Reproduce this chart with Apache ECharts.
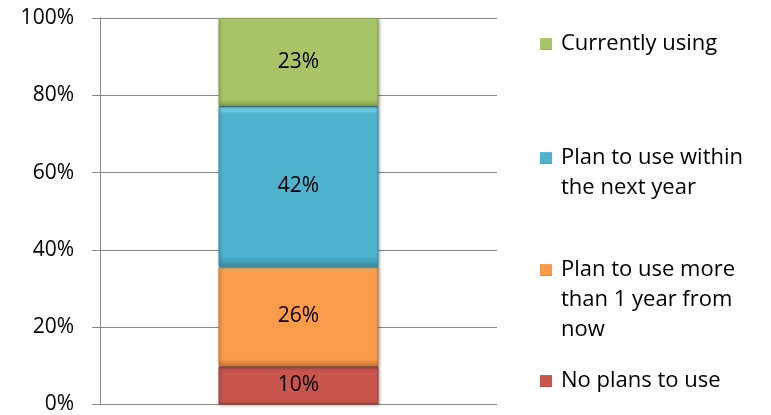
<!DOCTYPE html>
<html>
<head>
<meta charset="utf-8">
<script src="https://cdn.jsdelivr.net/npm/echarts@6/dist/echarts.min.js"></script>
<style>
  html, body { margin: 0; padding: 0; background: #fff; }
  #chart { width: 771px; height: 415px; }
</style>
</head>
<body>
<div id="chart"></div>
<script>
// Adoption status, stacked bottom to top
const categories = [''];
const seriesNames = ['No plans to use', 'Plan to use more\nthan 1 year from\nnow', 'Plan to use within\nthe next year', 'Currently using'];
const seriesValues = [[10], [26], [42], [23]];
const tickLabels = ['0%', '20%', '40%', '60%', '80%', '100%'];

const baseColors = ['#C9554F', '#F99B4B', '#4FB3CF', '#A7C466'];
const lightColors = ['#F08A84', '#FFD27E', '#8FE6FA', '#CFE68E'];
const darkColors = ['#9E3F3A', '#C9772F', '#3A8DA5', '#84A04A'];

const total = seriesValues.reduce((s, v) => s + v[0], 0);
const FONT = '"Open Sans", Lato, sans-serif';
const FONT_SIZE = 21;
const LEGEND_FONT_SIZE = 22;

function bevel(i) {
  return new echarts.graphic.LinearGradient(0, 0, 0, 1, [
    { offset: 0, color: lightColors[i] },
    { offset: 0.05, color: baseColors[i] },
    { offset: 0.93, color: baseColors[i] },
    { offset: 1, color: darkColors[i] }
  ]);
}

const series = seriesNames.map((name, i) => ({
  name: name,
  type: 'bar',
  stack: 'all',
  barWidth: 160,
  data: seriesValues[i],
  itemStyle: {
    color: bevel(i),
    borderColor: darkColors[i],
    borderWidth: 1,
    shadowColor: 'rgba(0,0,0,0.35)',
    shadowBlur: 3,
    shadowOffsetX: 1,
    shadowOffsetY: 1
  },
  label: {
    show: true,
    position: 'inside',
    formatter: p => p.value + '%',
    color: '#000',
    fontFamily: FONT,
    fontSize: FONT_SIZE
  }
}));

// Legend entries, top to bottom; the swatch sits beside the first line
const LINE = 30;
const legendCenters = [44, 158, 270, 381];
const legendOrder = [3, 2, 1, 0];
const legends = legendOrder.map((si, k) => {
  const lines = seriesNames[si].split('\n').length;
  return {
    data: [seriesNames[si]],
    left: 540,
    top: legendCenters[k] - (2 * lines - 1) * LINE / 2,
    padding: 0,
    itemWidth: 12,
    itemHeight: 12,
    icon: 'rect',
    selectedMode: false,
    formatter: name => '\n'.repeat(lines - 1) + name,
    itemStyle: { color: bevel(si), borderWidth: 0 },
    textStyle: {
      fontFamily: FONT,
      fontSize: LEGEND_FONT_SIZE,
      color: '#000',
      lineHeight: LINE,
      padding: [0, 0, 0, 4]
    }
  };
});

const chart = echarts.init(document.getElementById('chart'));
chart.setOption({
  animation: false,
  backgroundColor: '#fff',
  grid: { left: 100, right: 274, top: 18, bottom: 10 },
  legend: legends,
  xAxis: {
    type: 'category',
    data: categories,
    axisLine: { show: true, lineStyle: { color: '#868686' } },
    axisTick: { show: false },
    axisLabel: { show: false }
  },
  yAxis: {
    type: 'value',
    min: 0,
    max: total,
    interval: total / 5,
    axisLine: { show: true, lineStyle: { color: '#868686' } },
    axisTick: { show: true, length: 8, lineStyle: { color: '#868686' } },
    splitLine: { show: true, lineStyle: { color: '#868686', width: 1 } },
    axisLabel: {
      fontFamily: FONT,
      fontSize: FONT_SIZE,
      color: '#000',
      margin: 26,
      formatter: v => tickLabels[Math.round(v / total * 5)]
    }
  },
  series: series
});
</script>
</body>
</html>
